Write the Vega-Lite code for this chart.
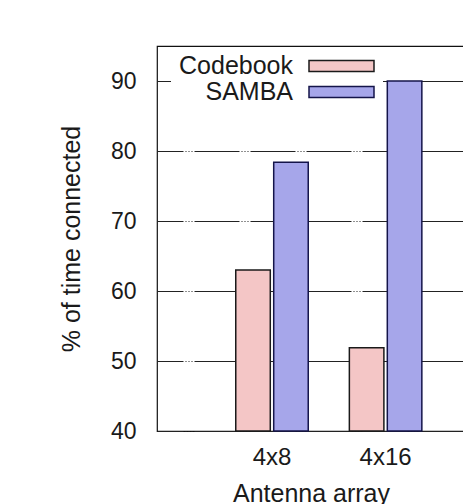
{
  "$schema": "https://vega.github.io/schema/vega-lite/v6.json",
  "width": 308,
  "height": 385,
  "autosize": {"type": "none"},
  "padding": {"left": 157, "top": 46, "right": 0, "bottom": 73},
  "background": "white",
  "config": {
    "font": "Liberation Sans",
    "view": {"stroke": "#111111", "strokeWidth": 1.2}
  },
  "data": {
    "values": [
      {"array": "4x8", "scheme": "Codebook", "pct": 63.0},
      {"array": "4x8", "scheme": "SAMBA", "pct": 78.4},
      {"array": "4x16", "scheme": "Codebook", "pct": 51.9},
      {"array": "4x16", "scheme": "SAMBA", "pct": 90.0}
    ]
  },
  "mark": {"type": "bar", "strokeWidth": 1.5},
  "encoding": {
    "x": {
      "field": "array",
      "type": "nominal",
      "sort": ["4x8", "4x16"],
      "scale": {"paddingInner": 0.362, "paddingOuter": 0.5366, "align": 0.646},
      "axis": {
        "title": "Antenna array",
        "labelAngle": 0,
        "ticks": false,
        "domain": false,
        "labelFontSize": 24,
        "labelPadding": 14,
        "labelColor": "#1a1a1a",
        "titleFontSize": 25,
        "titlePadding": 12,
        "titleFontWeight": "normal",
        "titleColor": "#1a1a1a"
      }
    },
    "xOffset": {
      "field": "scheme",
      "type": "nominal",
      "sort": ["Codebook", "SAMBA"],
      "scale": {"paddingInner": 0.09}
    },
    "y": {
      "field": "pct",
      "type": "quantitative",
      "scale": {"domain": [40, 95], "nice": false, "zero": false},
      "axis": {
        "title": "% of time connected",
        "values": [40, 50, 60, 70, 80, 90],
        "ticks": false,
        "domain": false,
        "grid": true,
        "gridColor": "#222222",
        "gridWidth": 1,
        "gridDash": [45, 2, 1, 2, 1, 2, 1, 2],
        "gridDashOffset": 19,
        "labelFontSize": 23,
        "labelPadding": 21,
        "labelColor": "#1a1a1a",
        "titleFontSize": 25,
        "titlePadding": 26,
        "titleFontWeight": "normal",
        "titleColor": "#1a1a1a"
      }
    },
    "y2": {"datum": 40},
    "fill": {
      "field": "scheme",
      "type": "nominal",
      "scale": {"domain": ["Codebook", "SAMBA"], "range": ["#f4c6c6", "#a6a6ea"]},
      "legend": {
        "orient": "none",
        "legendX": 14,
        "legendY": 1.5,
        "title": null,
        "symbolType": "M-2.826,-0.478H2.826V0.478H-2.826Z",
        "symbolSize": 529,
        "symbolStrokeWidth": 1.5,
        "symbolOffset": 152,
        "labelAlign": "right",
        "labelOffset": -61,
        "labelFontSize": 25,
        "labelColor": "#1a1a1a",
        "labelLimit": 200,
        "rowPadding": 0,
        "padding": 6,
        "fillColor": "white"
      }
    },
    "stroke": {
      "field": "scheme",
      "type": "nominal",
      "scale": {"domain": ["Codebook", "SAMBA"], "range": ["#1a1a1a", "#14144a"]}
    }
  }
}
